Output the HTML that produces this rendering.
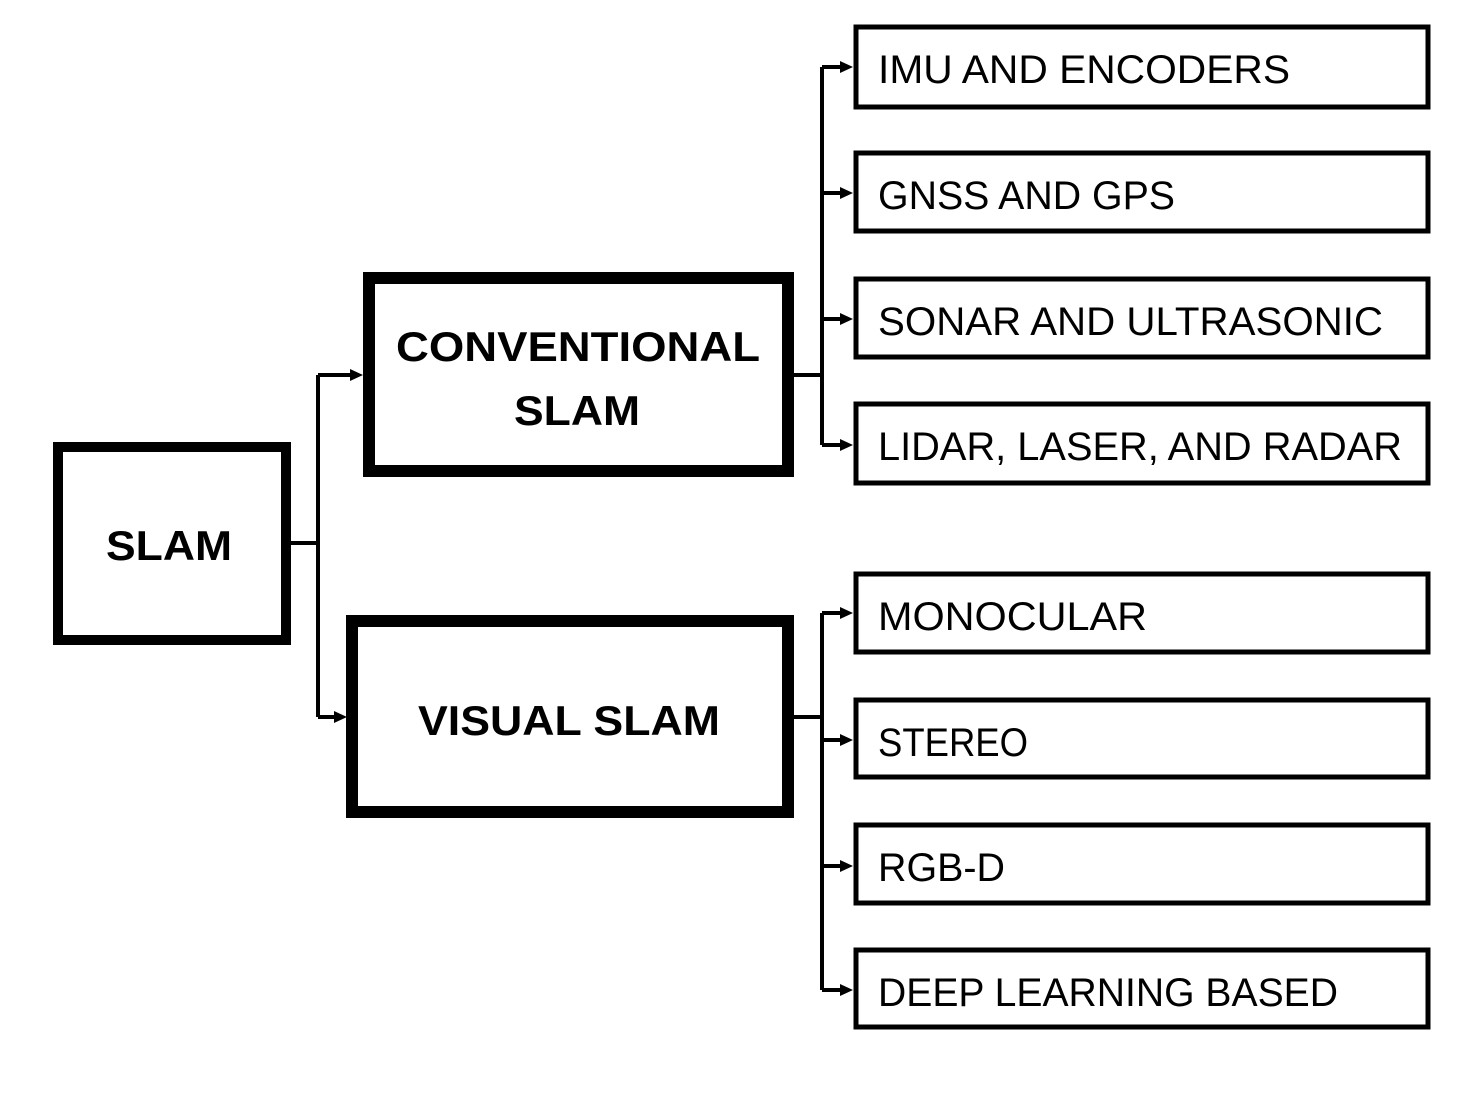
<!DOCTYPE html>
<html><head><meta charset="utf-8"><style>html,body{margin:0;padding:0;background:#fff}svg{display:block}</style></head>
<body>
<svg width="1481" height="1100" viewBox="0 0 1481 1100" xmlns="http://www.w3.org/2000/svg" font-family="Liberation Sans, sans-serif">
<defs><marker id="a" viewBox="0 0 10 10" refX="10" refY="5" markerWidth="4" markerHeight="4" orient="auto" markerUnits="userSpaceOnUse"><path d="M0,0L10,5L0,10z"/></marker></defs>
<g fill="none" stroke="#000">
<rect x="58" y="447" width="228" height="193" stroke-width="10"/>
<rect x="369" y="278" width="419" height="193" stroke-width="12"/>
<rect x="352" y="621" width="436" height="191" stroke-width="12"/>
<g stroke-width="5">
<rect x="856" y="27" width="572" height="80"/>
<rect x="856" y="153" width="572" height="78"/>
<rect x="856" y="279" width="572" height="78"/>
<rect x="856" y="404" width="572" height="79"/>
<rect x="856" y="574" width="572" height="78"/>
<rect x="856" y="700" width="572" height="77"/>
<rect x="856" y="825" width="572" height="78"/>
<rect x="856" y="950" width="572" height="77"/>
</g>
<g stroke-width="4">
<path d="M291 543H318M318 375V717M318 375H350M318 717H334"/>
<path d="M794 375H822M822 67V445M822 67H842M822 193H842M822 319H842M822 445H842"/>
<path d="M794 717H822M822 613V990M822 613H842M822 740H842M822 866H842M822 990H842"/>
</g>
</g>
<g fill="#000">
<path d="M350 369L363 375L350 381z"/><path d="M334 711L347 717L334 723z"/>
<path d="M840 61L853 67L840 73z"/><path d="M840 187L853 193L840 199z"/><path d="M840 313L853 319L840 325z"/><path d="M840 439L853 445L840 451z"/>
<path d="M840 607L853 613L840 619z"/><path d="M840 734L853 740L840 746z"/><path d="M840 860L853 866L840 872z"/><path d="M840 984L853 990L840 996z"/>
</g>
<g font-weight="bold" font-size="42" text-anchor="middle">
<text x="169" y="560" textLength="126" lengthAdjust="spacingAndGlyphs">SLAM</text>
<text x="578" y="361" textLength="364" lengthAdjust="spacingAndGlyphs">CONVENTIONAL</text>
<text x="577" y="425" textLength="126" lengthAdjust="spacingAndGlyphs">SLAM</text>
<text x="569" y="735" textLength="302" lengthAdjust="spacingAndGlyphs">VISUAL SLAM</text>
</g>
<g font-size="40">
<text x="878" y="83" textLength="412" lengthAdjust="spacingAndGlyphs">IMU AND ENCODERS</text>
<text x="878" y="209" textLength="297" lengthAdjust="spacingAndGlyphs">GNSS AND GPS</text>
<text x="878" y="335" textLength="505" lengthAdjust="spacingAndGlyphs">SONAR AND ULTRASONIC</text>
<text x="878" y="460" textLength="524" lengthAdjust="spacingAndGlyphs">LIDAR, LASER, AND RADAR</text>
<text x="878" y="630" textLength="269" lengthAdjust="spacingAndGlyphs">MONOCULAR</text>
<text x="878" y="756" textLength="150" lengthAdjust="spacingAndGlyphs">STEREO</text>
<text x="878" y="881" textLength="127" lengthAdjust="spacingAndGlyphs">RGB-D</text>
<text x="878" y="1006" textLength="460" lengthAdjust="spacingAndGlyphs">DEEP LEARNING BASED</text>
</g>
</svg>
</body></html>
